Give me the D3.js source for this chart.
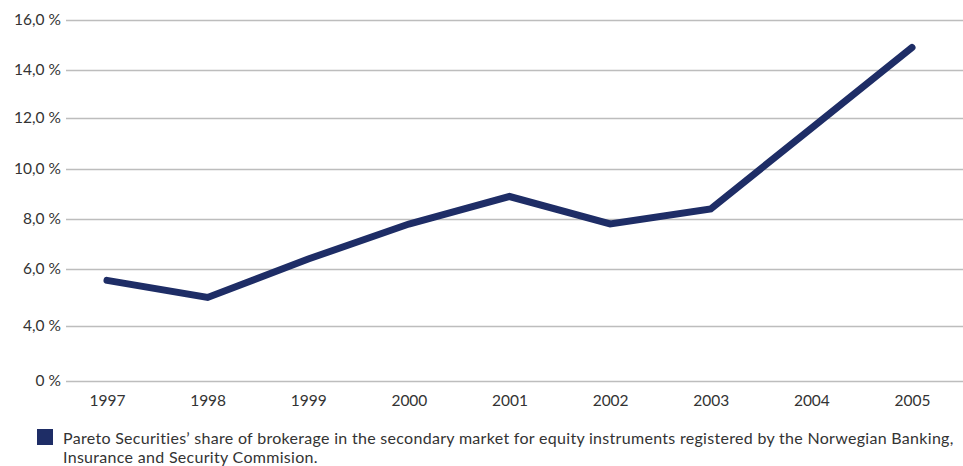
<!DOCTYPE html>
<html lang="en">
<head>
<meta charset="UTF-8">
<title>Pareto Securities share of brokerage</title>
<script src="https://cdn.jsdelivr.net/npm/d3@7"></script>
<style>
    body { margin: 0; background: #fff; }
    svg text { font-family: Lato, "Open Sans", sans-serif; fill: #333; }
</style>
</head>
<body>
<svg id="chart" width="963" height="466"></svg>
<script>
    // data
    var years = ["1997", "1998", "1999", "2000", "2001", "2002", "2003", "2004", "2005"];
    var share = [5.6, 5.0, 6.4, 7.8, 8.9, 7.8, 8.4, 11.6, 14.9];
    var tickValues = [0, 4, 6, 8, 10, 12, 14, 16];
    var tickLabels = ["0 %", "4,0 %", "6,0 %", "8,0 %", "10,0 %", "12,0 %", "14,0 %", "16,0 %"];
    var legendLines = [
        "Pareto Securities\u2019 share of brokerage in the secondary market for equity instruments registered by the Norwegian Banking,",
        "Insurance and Security Commision."
    ];

    var svg = d3.select("#chart");

    // the original axis is not linear, ticks sit at uneven gaps
    var y = d3.scaleLinear()
        .domain(tickValues)
        .range([381, 326, 269, 219, 169, 118, 70, 20]);

    var x = d3.scalePoint()
        .domain(years)
        .range([107, 912]);

    // gridlines + labels
    var yAxis = d3.axisLeft(y)
        .tickValues(tickValues)
        .tickFormat(function (d, i) { return tickLabels[i]; })
        .tickSize(-900)
        .tickPadding(5);

    var gy = svg.append("g")
        .attr("transform", "translate(66,0)")
        .call(yAxis);
    gy.select(".domain").remove();
    gy.selectAll(".tick line").attr("stroke", "#bdbdbd").attr("stroke-width", 1.3);
    gy.selectAll(".tick text")
        .attr("font-size", 15.5)
        .attr("font-family", "Lato, sans-serif")
        .attr("fill", "#333");

    var xAxis = d3.axisBottom(x).tickSize(0).tickPadding(14);
    var gx = svg.append("g")
        .attr("transform", "translate(0,381)")
        .call(xAxis);
    gx.select(".domain").remove();
    gx.selectAll(".tick text")
        .attr("font-size", 15.5)
        .attr("font-family", "Lato, sans-serif")
        .attr("fill", "#222");

    // the line
    var line = d3.line()
        .x(function (d, i) { return x(years[i]); })
        .y(function (d) { return y(d); });

    svg.append("path")
        .datum(share)
        .attr("d", line)
        .attr("fill", "none")
        .attr("stroke", "#1e2d66")
        .attr("stroke-width", 7)
        .attr("stroke-linecap", "round")
        .attr("stroke-linejoin", "miter");

    // legend
    svg.append("rect")
        .attr("x", 37).attr("y", 429)
        .attr("width", 16).attr("height", 16)
        .attr("fill", "#1e2d66");

    svg.selectAll(".legend-text")
        .data(legendLines)
        .enter()
        .append("text")
        .attr("class", "legend-text")
        .attr("x", 63)
        .attr("y", function (d, i) { return 444 + i * 19; })
        .attr("font-size", 16)
        .attr("letter-spacing", 0.3)
        .attr("fill", "#222")
        .text(function (d) { return d; });
</script>
</body>
</html>
